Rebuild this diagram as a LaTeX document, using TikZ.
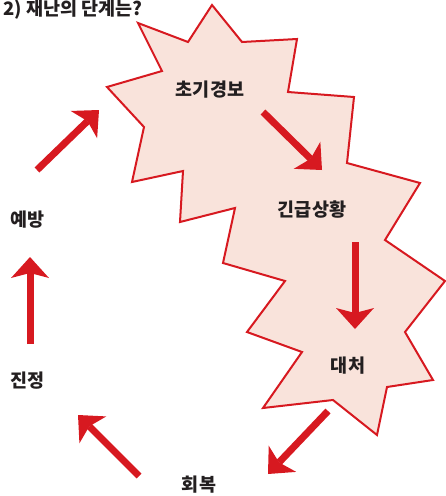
\documentclass[tikz,border=0pt]{standalone}
\usepackage{fontspec}
\newfontfamily\kr{Noto Sans CJK KR}
\usetikzlibrary{arrows.meta}
\definecolor{burstred}{HTML}{D71920}
\definecolor{burstfill}{HTML}{F9E3DB}
\definecolor{txt}{HTML}{231F20}
\tikzset{
  stage/.style={font=\kr\bfseries\fontsize{18.5}{18.5}\selectfont, text=txt, inner sep=0pt},
  flow/.style={draw=burstred, line width=7pt,
    -{Stealth[length=21pt, width=38pt, inset=5pt, line width=0pt]}},
  burst/.style={draw=burstred, fill=burstfill, line width=2pt, line join=miter}
}
\begin{document}
\begin{tikzpicture}[x=1pt,y=-1pt]
\useasboundingbox (0,0) rectangle (446,496);
% burst shape
\draw[burst] (212,5) -- (242,42) -- (297,39) -- (288,92) -- (354,97) -- (347,163)
  -- (420,183) -- (385,240) -- (445,281) -- (405,332) -- (433,380) -- (387,387)
  -- (377,435) -- (333,400) -- (263,408) -- (302,352) -- (247,332) -- (285,281)
  -- (223,263) -- (235,208) -- (180,222) -- (183,171) -- (132,182) -- (144,127)
  -- (107,87) -- (162,71) -- (138,23) -- (188,42) -- cycle;
% title
\node[anchor=base west, inner sep=0pt, font=\kr\bfseries\fontsize{18.5}{18.5}\selectfont, text=txt] (title) at (3,15) {2) 재난의 단계는?};
% stage labels
\node[stage] (s1) at (210,90) {초기경보};
\node[stage] (s2) at (312,210) {긴급상황};
\node[stage] (s3) at (348,366) {대처};
\node[stage] (s4) at (199,485) {회복};
\node[stage] (s5) at (28,381) {진정};
\node[stage] (s6) at (28,220) {예방};
% arrow end points
\coordinate (a1s) at (37,170);  \coordinate (a1e) at (99,110);
\coordinate (a2s) at (263,112); \coordinate (a2e) at (322,170);
\coordinate (a3s) at (355,242); \coordinate (a3e) at (355,329);
\coordinate (a4s) at (328,411); \coordinate (a4e) at (268,474);
\coordinate (a5s) at (139,476); \coordinate (a5e) at (78,415);
\coordinate (a6s) at (30,344);  \coordinate (a6e) at (30,257);
\draw[flow] (a1s) -- (a1e);
\draw[flow] (a2s) -- (a2e);
\draw[flow] (a3s) -- (a3e);
\draw[flow] (a4s) -- (a4e);
\draw[flow] (a5s) -- (a5e);
\draw[flow] (a6s) -- (a6e);
\end{tikzpicture}
\end{document}
